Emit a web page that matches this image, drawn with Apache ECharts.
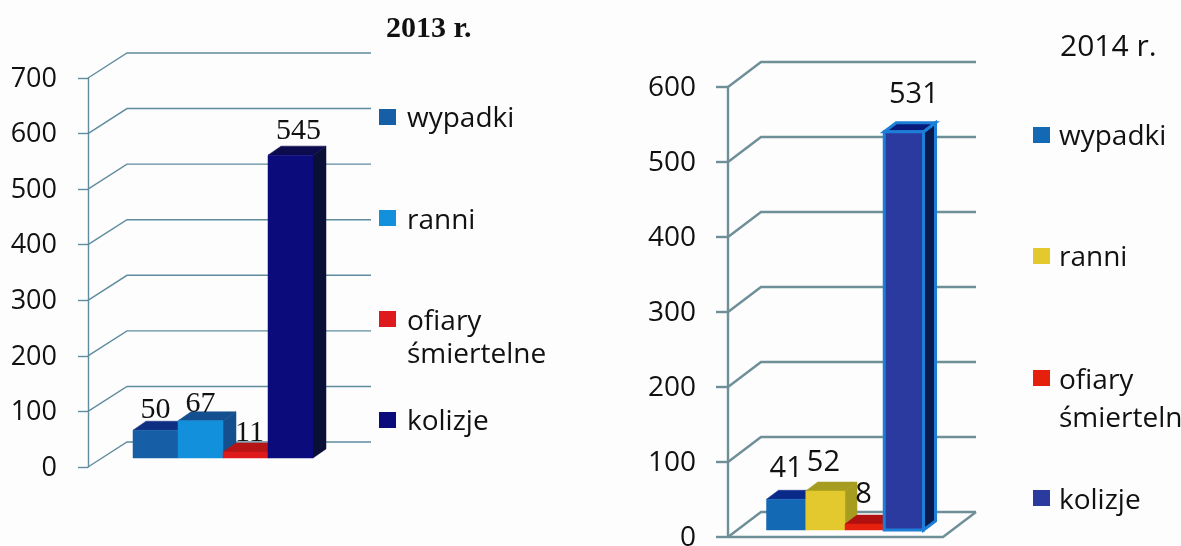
<!DOCTYPE html>
<html><head><meta charset="utf-8">
<style>html,body{margin:0;padding:0;background:#fdfdfd}#c{width:1181px;height:546px}</style>
<script src="https://cdn.jsdelivr.net/npm/echarts@6/dist/echarts.min.js"></script></head>
<body><div id="c"></div>
<script>
const categories = ['wypadki', 'ranni', 'ofiary śmiertelne', 'kolizje'];
const values2013 = [50, 67, 11, 545];
const values2014 = [41, 52, 8, 531];
const ticks2013 = [0, 100, 200, 300, 400, 500, 600, 700];
const ticks2014 = [0, 100, 200, 300, 400, 500, 600];

const sans = '"Open Sans","Noto Sans",sans-serif';
const serif = '"Liberation Serif",serif';

const charts = [
  { values: values2013, ticks: ticks2013, max: 700,
    grid: {left: 133, top: 78, width: 180, height: 389, outerBoundsMode: 'none'},
    axisOffset: 45, wall: [39, -25], wallEnd: 371, lift: 9, depth: [13, -9], floor: false,
    tickLen: 10, labelMargin: 31, labelDrop: 2, axisFont: 27, lineColor: '#5f8c9e', lineWidth: 1.4,
    face: ['#165fa6', '#1290dc', '#df1a1c', '#0b0b7c'], top: ['#0e2f82', '#14508f', '#b51515', '#0b0b4e'],
    side: ['#0e2f82', '#14508f', '#8a1010', '#0a0f38'], edge: [null, null, null, null],
    labelFont: '30px ' + serif, labelNudge: [[0, -20], [0, -17], [4, -19], [8, -24]] },
  { values: values2014, ticks: ticks2014, max: 600,
    grid: {left: 766.5, top: 87, width: 157, height: 450, outerBoundsMode: 'none'},
    axisOffset: 38.5, wall: [33, -25], wallEnd: 976, lift: 7, depth: [12, -9], floor: true,
    tickLen: 12, labelMargin: 32, labelDrop: 2, axisFont: 28, lineColor: '#6f8f98', lineWidth: 2.4,
    face: ['#1469b4', '#e3c82e', '#e5200c', '#2b3a9e'], top: ['#0a2a8a', '#a69c20', '#b01010', '#0a1a7a'],
    side: ['#0a2a8a', '#a69c20', '#b01010', '#0a1a4a'], edge: [null, null, null, '#1c7ed6'],
    labelFont: '29px ' + sans, labelNudge: [[0, -31], [-2, -28], [-1, -29], [10, -37]] }
];

const legends = [
  { x: 379, textX: 407, font: 28, lineHeight: 33, colors: charts[0].face,
    rows: [[109, 118], [210, 220], [311, 321], [412, 421]] },
  { x: 1033, textX: 1059, font: 28, lineHeight: 38, colors: ['#1469b4', '#e3c82e', '#e5200c', '#2b3a9e'],
    rows: [[127, 136], [248, 257], [370, 380], [490, 500]] }
];

function poly(points, fill, stroke) {
  return { type: 'polygon', shape: {points},
    style: {fill, stroke: stroke || fill, lineWidth: stroke ? 3 : 0.5} };
}

function wallSeries(ch, i) {
  return {
    type: 'custom', xAxisIndex: i, yAxisIndex: i, silent: true, z: 1,
    data: ch.ticks.map(t => [0, t]),
    renderItem(params, api) {
      const y = api.coord([0, api.value(1)])[1];
      const ax = params.coordSys.x - ch.axisOffset;
      const style = {stroke: ch.lineColor, lineWidth: ch.lineWidth, fill: 'none'};
      const pts = [[ax, y], [ax + ch.wall[0], y + ch.wall[1]], [ch.wallEnd, y + ch.wall[1]]];
      const kids = [{type: 'polyline', shape: {points: pts}, style}];
      if (ch.floor && api.value(1) === 0) {
        kids.push({type: 'polyline', style,
          shape: {points: [[ax, y], [ch.wallEnd - ch.wall[0], y], [ch.wallEnd, y + ch.wall[1]]]}});
      }
      return {type: 'group', children: kids};
    }
  };
}

function barSeries(ch, i) {
  return {
    type: 'custom', xAxisIndex: i, yAxisIndex: i, silent: true, z: 2,
    data: ch.values.map((v, k) => [k, v]),
    renderItem(params, api) {
      const k = api.value(0);
      const w = api.size([1, 0])[0];
      const t = api.coord([k, api.value(1)]);
      const b = api.coord([k, 0]);
      const x0 = t[0] - w / 2, x1 = t[0] + w / 2;
      const yT = t[1] - ch.lift, yB = b[1] - ch.lift;
      const [dx, dy] = ch.depth;
      const e = ch.edge[k];
      const kids = [
        poly([[x1, yB], [x1 + dx, yB + dy], [x1 + dx, yT + dy], [x1, yT]], ch.side[k], e),
        poly([[x0, yT], [x0 + dx, yT + dy], [x1 + dx, yT + dy], [x1, yT]], ch.top[k], e),
        poly([[x0, yB], [x1, yB], [x1, yT], [x0, yT]], ch.face[k], e),
        {type: 'text', z2: 10, style: {
          text: String(api.value(1)), font: ch.labelFont, fill: '#111',
          x: t[0] + ch.labelNudge[k][0], y: yT + ch.labelNudge[k][1],
          textAlign: 'center', textVerticalAlign: 'middle'}}
      ];
      return {type: 'group', children: kids};
    }
  };
}

const legendGraphics = [];
legends.forEach(l => {
  categories.forEach((name, k) => {
    legendGraphics.push({type: 'rect', left: l.x, top: l.rows[k][0], shape: {width: 17, height: 16},
      style: {fill: l.colors[k]}});
    const lines = name.split(' ');
    lines.forEach((ln, j) => {
      legendGraphics.push({type: 'text', left: l.textX,
        top: l.rows[k][1] + j * l.lineHeight - 13,
        style: {text: ln, font: l.font + 'px ' + sans, fill: '#111'}});
    });
  });
});

const chart = echarts.init(document.getElementById('c'), null, {renderer: 'canvas'});
chart.setOption({
  animation: false,
  backgroundColor: '#fdfdfd',
  title: [
    {text: '2013 r.', left: 386, top: 14, textStyle: {fontFamily: serif, fontWeight: 'bold', fontSize: 30, color: '#111'}, padding: 0},
    {text: '2014 r.', left: 1060, top: 32, textStyle: {fontFamily: sans, fontWeight: 'normal', fontSize: 30, color: '#111'}, padding: 0}
  ],
  grid: charts.map(c => c.grid),
  xAxis: charts.map((c, i) => ({type: 'category', gridIndex: i, data: categories, show: false})),
  yAxis: charts.map((c, i) => ({
    type: 'value', gridIndex: i, min: 0, max: c.max, interval: 100, offset: c.axisOffset,
    splitLine: {show: false},
    axisLine: {show: true, lineStyle: {color: c.lineColor, width: c.lineWidth}},
    axisTick: {show: true, length: c.tickLen, lineStyle: {color: c.lineColor, width: c.lineWidth}},
    axisLabel: {margin: c.labelMargin, verticalAlign: 'top', lineHeight: c.labelDrop, fontFamily: sans, fontSize: c.axisFont, color: '#111'}
  })),
  series: charts.flatMap((c, i) => [wallSeries(c, i), barSeries(c, i)]),
  graphic: legendGraphics
});
</script></body></html>
